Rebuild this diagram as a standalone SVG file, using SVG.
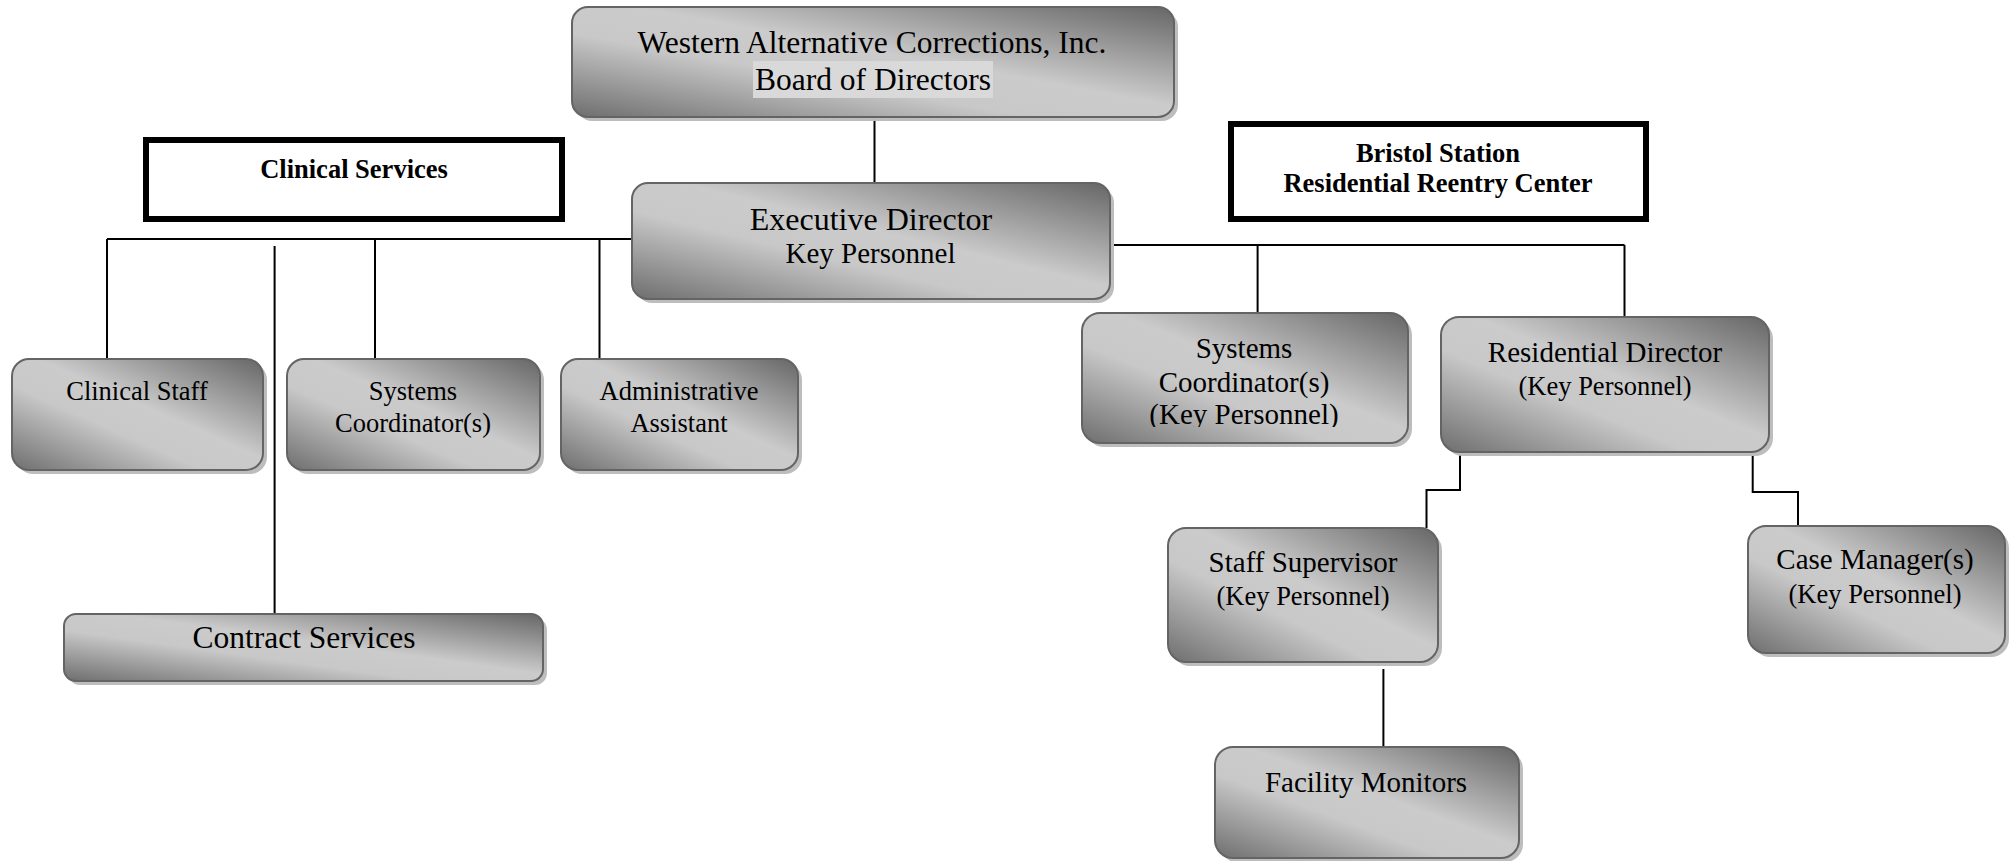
<svg xmlns="http://www.w3.org/2000/svg" width="2013" height="861" viewBox="0 0 2013 861">
<defs>
<linearGradient id="g" x1="1" y1="0" x2="0" y2="1">
<stop offset="0" stop-color="#666666"/>
<stop offset="0.45" stop-color="#cbcbcb"/>
<stop offset="0.62" stop-color="#c8c8c8"/>
<stop offset="1" stop-color="#6e6e6e"/>
</linearGradient>
<clipPath id="clipSC"><rect x="1082" y="313" width="326" height="114"/></clipPath>
</defs>
<style>
.sh{fill:#bdbdbd}
.bx{fill:url(#g);stroke:#646464;stroke-width:2}
.lb{fill:#fff;stroke:#000;stroke-width:6}
.t{font-family:"Liberation Serif","Times New Roman",serif;fill:#000;text-anchor:middle}
.b{font-weight:bold;font-size:26.5px}
.s32{font-size:31.5px}
.s29{font-size:29px}
.s26{font-size:26.5px}
.c{fill:none;stroke:#000;stroke-width:2}
</style>
<rect width="2013" height="861" fill="#fff"/>
<g id="connectors">
<path class="c" d="M874.5 117V183"/>
<path class="c" d="M107 239H632"/>
<path class="c" d="M107 239V359"/>
<path class="c" d="M375 239V359"/>
<path class="c" d="M599.5 239V359"/>
<path class="c" d="M274.6 246V614"/>
<path class="c" d="M1108 245H1624.5"/>
<path class="c" d="M1257.6 245V313"/>
<path class="c" d="M1624.5 245V317"/>
<path class="c" d="M1460 452V490H1426.5V528"/>
<path class="c" d="M1752.7 452V492H1798V526"/>
<path class="c" d="M1383.4 669V747"/>
</g>
<g id="clinical-services">
<rect class="lb" x="146" y="140" width="416" height="79"/>
<text class="t b" x="354" y="178">Clinical Services</text>
</g>
<g id="bristol-station">
<rect class="lb" x="1231" y="124" width="415" height="95"/>
<text class="t b" x="1438" y="162">Bristol Station</text>
<text class="t b" x="1438" y="192">Residential Reentry Center</text>
</g>
<g id="board">
<rect class="sh" x="576" y="11" width="602" height="110" rx="16"/>
<rect class="bx" x="572" y="7" width="602" height="110" rx="16"/>
<rect x="753" y="61" width="240" height="37" fill="#d9d9d9"/>
<text class="t s32" x="872" y="53">Western Alternative Corrections, Inc.</text>
<text class="t s32" x="873" y="90">Board of Directors</text>
</g>
<g id="executive-director">
<rect class="sh" x="636" y="187" width="478" height="116" rx="16"/>
<rect class="bx" x="632" y="183" width="478" height="116" rx="16"/>
<text class="t" style="font-size:32px" x="871" y="230">Executive Director</text>
<text class="t s29" x="870.5" y="263">Key Personnel</text>
</g>
<g id="clinical-staff">
<rect class="sh" x="16" y="363" width="251" height="111" rx="17"/>
<rect class="bx" x="12" y="359" width="251" height="111" rx="17"/>
<text class="t s26" x="137" y="400">Clinical Staff</text>
</g>
<g id="systems-coordinator-left">
<rect class="sh" x="291" y="363" width="253" height="111" rx="17"/>
<rect class="bx" x="287" y="359" width="253" height="111" rx="17"/>
<text class="t s26" x="413" y="400">Systems</text>
<text class="t s26" x="413" y="432">Coordinator(s)</text>
</g>
<g id="administrative-assistant">
<rect class="sh" x="565" y="363" width="237" height="111" rx="17"/>
<rect class="bx" x="561" y="359" width="237" height="111" rx="17"/>
<text class="t s26" x="679" y="400">Administrative</text>
<text class="t s26" x="679" y="432">Assistant</text>
</g>
<g id="contract-services">
<rect class="sh" x="68" y="618" width="479" height="67" rx="12"/>
<rect class="bx" x="64" y="614" width="479" height="67" rx="12"/>
<text class="t s32" x="304" y="648">Contract Services</text>
</g>
<g id="systems-coordinator-right">
<rect class="sh" x="1086" y="317" width="326" height="130" rx="18"/>
<rect class="bx" x="1082" y="313" width="326" height="130" rx="18"/>
<g clip-path="url(#clipSC)">
<text class="t s29" x="1244" y="358">Systems</text>
<text class="t s29" x="1244" y="392">Coordinator(s)</text>
<text class="t s29" x="1244" y="424">(Key Personnel)</text>
</g>
</g>
<g id="residential-director">
<rect class="sh" x="1445" y="321" width="328" height="135" rx="18"/>
<rect class="bx" x="1441" y="317" width="328" height="135" rx="18"/>
<text class="t s29" x="1605" y="362">Residential Director</text>
<text class="t s26" x="1605" y="395">(Key Personnel)</text>
</g>
<g id="staff-supervisor">
<rect class="sh" x="1172" y="532" width="270" height="134" rx="18"/>
<rect class="bx" x="1168" y="528" width="270" height="134" rx="18"/>
<text class="t s29" x="1303" y="572">Staff Supervisor</text>
<text class="t s26" x="1303" y="605">(Key Personnel)</text>
</g>
<g id="case-managers">
<rect class="sh" x="1752" y="530" width="257" height="127" rx="18"/>
<rect class="bx" x="1748" y="526" width="257" height="127" rx="18"/>
<text class="t s29" x="1875" y="569">Case Manager(s)</text>
<text class="t s26" x="1875" y="603">(Key Personnel)</text>
</g>
<g id="facility-monitors">
<rect class="sh" x="1219" y="751" width="304" height="111" rx="18"/>
<rect class="bx" x="1215" y="747" width="304" height="111" rx="18"/>
<text class="t s29" x="1366" y="792">Facility Monitors</text>
</g>
</svg>
